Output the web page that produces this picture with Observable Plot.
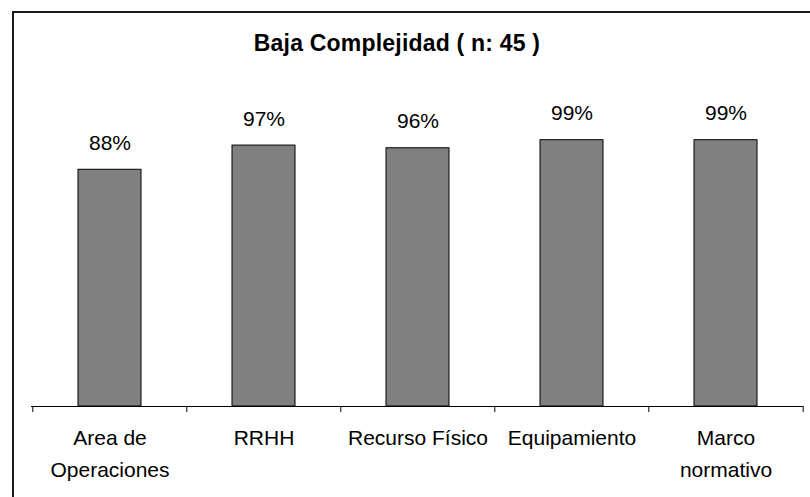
<!DOCTYPE html>
<html>
<head>
<meta charset="utf-8">
<script src="https://cdn.jsdelivr.net/npm/d3@7"></script>
<script src="https://cdn.jsdelivr.net/npm/@observablehq/plot@0.6"></script>
<style>
  html, body { margin: 0; padding: 0; background: #fff; }
  #wrap { position: relative; width: 810px; height: 497px; overflow: hidden; font-family: "Liberation Sans", Arial, sans-serif; }
  #border { position: absolute; left: 12px; top: 11px; width: 830px; height: 520px; border: 2px solid #1a1a1a; box-sizing: border-box; }
  #title { position: absolute; left: 0; top: 32px; width: 794px; text-align: center; font-weight: bold; font-size: 23px; line-height: 23px; color: #000; letter-spacing: 0.2px; }
  #chart { position: absolute; left: 0; top: 0; }
</style>
</head>
<body>
<div id="wrap">
  <div id="border"></div>
  <div id="chart"></div>
  <div id="title"></div>
</div>
<script>
const titleText = "Baja Complejidad ( n: 45 )";
const categories = ["Area de Operaciones", "RRHH", "Recurso Físico", "Equipamiento", "Marco normativo"];
const tickLabels = ["Area de\nOperaciones", "RRHH", "Recurso Físico", "Equipamiento", "Marco\nnormativo"];
const values = [0.88, 0.97, 0.96, 0.99, 0.99];

const data = categories.map((c, i) => ({category: c, value: values[i]}));
const labelOf = new Map(categories.map((c, i) => [c, tickLabels[i]]));

const W = 810, H = 497, mL = 31, mR = 7, mT = 137, mB = 91;
const step = (W - mL - mR) / categories.length;

document.getElementById("title").textContent = titleText;

const chart = Plot.plot({
  width: W,
  height: H,
  marginLeft: mL,
  marginRight: mR,
  marginTop: mT,
  marginBottom: mB,
  style: {fontFamily: "'Liberation Sans', Arial, sans-serif", background: "transparent", color: "#000"},
  x: {domain: categories, paddingInner: 0.592, paddingOuter: 0.296, label: null},
  y: {domain: [0, 1], axis: null},
  marks: [
    Plot.barY(data, {x: "category", y: "value", fill: "#808080", stroke: "#000", strokeWidth: 1}),
    Plot.text(data, {x: "category", y: "value", text: d => d3.format(".0%")(d.value), lineAnchor: "bottom", dy: -20, fontSize: 21, fill: "#000"}),
    Plot.ruleY([0], {stroke: "#000", strokeWidth: 1}),
    Plot.ruleX(categories, {x: d => d, y1: 0, y2: 0, insetBottom: -6, dx: -step / 2, stroke: "#000"}),
    Plot.ruleX(categories.slice(-1), {x: d => d, y1: 0, y2: 0, insetBottom: -6, dx: step / 2, stroke: "#000"}),
    Plot.axisX({tickSize: 0, tickPadding: 16, fontSize: 21, lineHeight: 1.52, tickFormat: d => labelOf.get(d), fill: "#000"})
  ]
});
document.getElementById("chart").appendChild(chart);
</script>
</body>
</html>
